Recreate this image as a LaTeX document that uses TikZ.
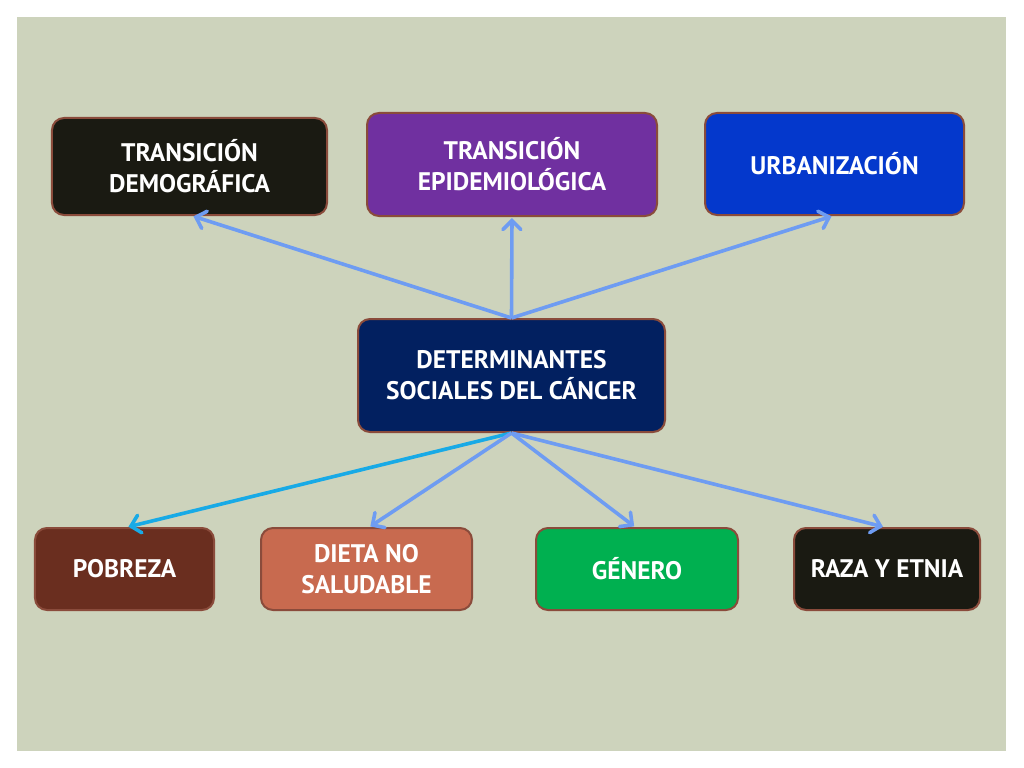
\documentclass[tikz,border=0pt]{standalone}
\usepackage{fontspec}
\setmainfont{PT Sans}
\usetikzlibrary{arrows.meta}
\definecolor{panel}{HTML}{CDD3BC}
\definecolor{edge}{HTML}{8A4B3B}
\definecolor{darkbox}{HTML}{1A1A12}
\definecolor{purplebox}{HTML}{7030A0}
\definecolor{bluebox}{HTML}{0438CC}
\definecolor{navybox}{HTML}{022060}
\definecolor{brownbox}{HTML}{6A2E1F}
\definecolor{salmonbox}{HTML}{C86A4F}
\definecolor{greenbox}{HTML}{00B050}
\definecolor{arrowblue}{HTML}{6E9CF2}
\definecolor{arrowcyan}{HTML}{18AAE6}
\tikzset{
  box/.style={draw=edge, line width=2bp, rounded corners=12bp, text=white,
    font=\fontsize{25.5}{31}\selectfont\bfseries, align=center, inner sep=0pt},
  link/.style={draw=arrowblue, line width=3.6bp,
    -{Straight Barb[length=9bp,width=18bp,line cap=round]}, shorten >=1bp},
}
\begin{document}
\begin{tikzpicture}[x=1bp,y=-1bp]
\fill[white] (0,0) rectangle (1024,768);
\useasboundingbox (0,0) rectangle (1024,768);
\fill[panel] (17,17) rectangle (1006,751);
\node[box, fill=darkbox, minimum width=275bp, minimum height=97bp] (demo) at (189.5,166.5) {TRANSICIÓN\\DEMOGRÁFICA};
\node[box, fill=purplebox, minimum width=290bp, minimum height=103bp] (epi) at (512,164.5) {TRANSICIÓN\\EPIDEMIOLÓGICA};
\node[box, fill=bluebox, minimum width=259bp, minimum height=102bp] (urb) at (834.5,164) {URBANIZACIÓN};
\node[box, fill=navybox, minimum width=307bp, minimum height=113bp] (det) at (511.5,375.5) {DETERMINANTES\\SOCIALES DEL CÁNCER};
\node[box, fill=brownbox, minimum width=179bp, minimum height=82bp] (pob) at (124.5,569) {POBREZA};
\node[box, fill=salmonbox, minimum width=211bp, minimum height=82bp] (die) at (366.5,569) {DIETA NO\\SALUDABLE};
\node[box, fill=greenbox, minimum width=202bp, minimum height=82bp] (gen) at (637,569) {GÉNERO};
\node[box, fill=darkbox, minimum width=186bp, minimum height=82bp] (raz) at (887,569) {RAZA Y ETNIA};
\draw[link] (det.north) -- ([xshift=3bp]demo.south);
\draw[link] (det.north) -- (epi.south);
\draw[link] (det.north) -- ([xshift=-2bp]urb.south);
\draw[link, draw=arrowcyan] (det.south) -- ([xshift=3bp]pob.north);
\draw[link] (det.south) -- ([xshift=3bp]die.north);
\draw[link] (det.south) -- ([xshift=-2bp]gen.north);
\draw[link] (det.south) -- ([xshift=-3bp]raz.north);
\end{tikzpicture}
\end{document}
